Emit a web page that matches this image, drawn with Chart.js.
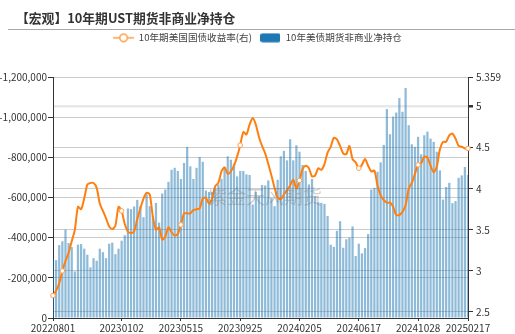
<!DOCTYPE html>
<html>
<head>
<meta charset="utf-8">
<script src="https://cdn.jsdelivr.net/npm/chart.js@4.4.1/dist/chart.umd.min.js"></script>
<style>
  html, body { margin: 0; padding: 0; background: #fff; }
  #wrap { width: 515px; height: 334px; }
</style>
</head>
<body>
<div id="wrap"><canvas id="myChart" width="515" height="334"></canvas></div>
<script>
// weekly data, Mondays from 2022-08-01
const startDate = Date.UTC(2022, 7, 1);

// 10年美债期货非商业净持仓 (contracts, net short)
const netPosition = [
  -296000, -288000, -363000, -382000, -440000, -373000, -353000, -232000, -365000, -368000,
  -345000, -315000, -252000, -298000, -285000, -345000, -328000, -298000, -370000, -375000,
  -318000, -345000, -385000, -412000, -545000, -542000, -555000, -588000, -557000, -502000,
  -615000, -557000, -507000, -573000, -475000, -620000, -640000, -678000, -738000, -748000,
  -732000, -692000, -772000, -852000, -755000, -692000, -748000, -802000, -778000, -635000,
  -628000, -628000, -648000, -665000, -693000, -752000, -805000, -788000, -768000, -705000,
  -732000, -732000, -715000, -712000, -565000, -628000, -607000, -662000, -660000, -685000,
  -598000, -557000, -688000, -805000, -832000, -785000, -890000, -785000, -860000, -828000,
  -762000, -732000, -665000, -692000, -605000, -577000, -573000, -568000, -508000, -365000,
  -354000, -434000, -482000, -350000, -392000, -400000, -456000, -309000, -370000, -322000,
  -348000, -418000, -640000, -648000, -728000, -775000, -862000, -1040000, -915000, -1003000,
  -1023000, -1095000, -1027000, -1145000, -960000, -865000, -852000, -902000, -815000, -910000,
  -928000, -893000, -877000, -828000, -735000, -590000, -652000, -673000, -572000, -582000,
  -698000, -710000, -752000, -712000
];

// 10年期美国国债收益率 (%)
const yield10y = [
  2.70, 2.76, 2.85, 3.00, 3.12, 3.22, 3.36, 3.50, 3.78, 3.75,
  3.88, 4.05, 4.07, 4.07, 4.01, 3.82, 3.73, 3.64, 3.54, 3.51,
  3.55, 3.78, 3.73, 3.57, 3.48, 3.46, 3.48, 3.63, 3.76, 3.88,
  3.95, 3.93, 3.66, 3.50, 3.53, 3.38, 3.42, 3.53, 3.47, 3.43,
  3.45, 3.56, 3.70, 3.70, 3.70, 3.74, 3.75, 3.76, 3.88, 3.89,
  3.82, 3.88, 4.03, 4.07, 4.21, 4.26, 4.18, 4.21, 4.28, 4.39,
  4.53, 4.69, 4.66, 4.78, 4.86, 4.78, 4.63, 4.52, 4.43, 4.30,
  4.16, 4.01, 3.89, 3.87, 3.93, 3.98, 4.04, 4.11, 4.00, 4.10,
  4.24, 4.28, 4.25, 4.15, 4.16, 4.25, 4.23, 4.30, 4.44, 4.51,
  4.62, 4.60, 4.52, 4.43, 4.42, 4.52, 4.36, 4.32, 4.25, 4.29,
  4.36, 4.28, 4.21, 4.22, 4.04, 3.92, 3.86, 3.83, 3.83, 3.78,
  3.68, 3.68, 3.72, 3.80, 4.00, 4.07, 4.18, 4.29, 4.31, 4.39,
  4.38, 4.28, 4.20, 4.27, 4.48, 4.57, 4.57, 4.65, 4.67, 4.61,
  4.52, 4.51, 4.49, 4.49
];

const tickLabels = ['20220801', '20230102', '20230515', '20230925', '20240205', '20240617', '20241028', '20250217'];
const markerDates = ['20220801', '20220822', '20230102', '20230515', '20230925', '20240205', '20240617', '20241028', '20250217'];
const leftTicks = [0, -200000, -400000, -600000, -800000, -1000000, -1200000];
const rightTicks = [2.5, 3, 3.5, 4, 4.5, 5, 5.359];

const dates = netPosition.map((_, i) => {
  const d = new Date(startDate + i * 7 * 86400000);
  return d.toISOString().slice(0, 10).replace(/-/g, '');
});

const FONT = '"Noto Sans CJK SC", "Noto Sans", sans-serif';
Chart.defaults.font.family = FONT;
Chart.defaults.color = '#333';

// legend symbols
function lineIcon() {
  const c = document.createElement('canvas');
  c.width = 21; c.height = 10;
  const g = c.getContext('2d');
  g.strokeStyle = '#ff9f4a'; g.lineWidth = 1.5;
  g.beginPath(); g.moveTo(0, 5); g.lineTo(21, 5); g.stroke();
  g.fillStyle = '#fff';
  g.beginPath(); g.arc(10.5, 5, 3.8, 0, Math.PI * 2); g.fill(); g.stroke();
  return c;
}
function barIcon() {
  const c = document.createElement('canvas');
  c.width = 20; c.height = 10;
  const g = c.getContext('2d');
  g.fillStyle = '#1f77b4';
  g.beginPath(); g.roundRect(0, 0.5, 20, 9, 2); g.fill();
  return c;
}

const header = {
  id: 'header',
  beforeInit(chart) {
    // leave room between the legend and the plot
    const fit = chart.legend.fit;
    chart.legend.fit = function () {
      fit.call(this);
      this.height = 52;
    };
  },
  beforeDraw(chart) {
    const ctx = chart.ctx;
    ctx.save();
    ctx.fillStyle = '#fff';
    ctx.fillRect(0, 0, chart.width, chart.height);
    ctx.fillStyle = '#333';
    ctx.font = 'bold 12.8px ' + FONT;
    ctx.textBaseline = 'middle';
    ctx.fillText('【宏观】10年期UST期货非商业净持仓', 16, 18);
    ctx.strokeStyle = '#a8a8a8';
    ctx.lineWidth = 1;
    ctx.beginPath(); ctx.moveTo(8, 29.5); ctx.lineTo(515, 29.5); ctx.stroke();
    ctx.restore();
  },
  afterDatasetsDraw(chart) {
    const ctx = chart.ctx;
    ctx.save();
    ctx.font = '19px ' + FONT;
    ctx.fillStyle = 'rgba(120,120,120,0.35)';
    ctx.textAlign = 'center';
    ctx.textBaseline = 'middle';
    ctx.fillText('紫金天风期货', 265, 197);
    ctx.restore();
  }
};

const isTick = i => tickLabels.includes(dates[i]);

new Chart(document.getElementById('myChart'), {
  type: 'bar',
  data: {
    labels: dates,
    datasets: [{
      type: 'line',
      label: '10年期美国国债收益率(右)',
      data: yield10y,
      yAxisID: 'y1',
      borderColor: '#ff7f0e',
      borderWidth: 2,
      tension: 0.25,
      pointRadius: ctx => markerDates.includes(dates[ctx.dataIndex]) ? 2.3 : 0,
      pointBackgroundColor: '#fff',
      pointBorderColor: '#ff9f4a',
      pointBorderWidth: 1
    }, {
      label: '10年美债期货非商业净持仓',
      data: netPosition,
      yAxisID: 'y',
      backgroundColor: 'rgba(31,119,180,0.5)',
      barPercentage: 0.72,
      categoryPercentage: 1.0
    }]
  },
  options: {
    responsive: false,
    animation: false,
    events: [],
    layout: { padding: { top: 25, left: 0, right: 0, bottom: 0 } },
    plugins: {
      tooltip: { enabled: false },
      legend: {
        position: 'top',
        labels: {
          usePointStyle: true,
          pointStyleWidth: 21,
          padding: 8,
          color: '#444',
          font: { size: 9.6 },
          generateLabels(chart) {
            const items = Chart.defaults.plugins.legend.labels.generateLabels(chart);
            items[0].pointStyle = lineIcon();
            items[1].pointStyle = barIcon();
            return items;
          }
        }
      }
    },
    scales: {
      x: {
        offset: false,
        afterFit(s) { s.height = 16; },
        grid: {
          offset: false,
          drawOnChartArea: false,
          tickLength: 3,
          tickColor: ctx => isTick(ctx.index) ? '#333' : 'rgba(0,0,0,0)'
        },
        border: { color: '#333' },
        ticks: {
          autoSkip: false,
          maxRotation: 0,
          minRotation: 0,
          padding: 1,
          font: { size: 10 },
          color: '#333',
          callback: (v, i) => isTick(i) ? dates[i] : ''
        }
      },
      y: {
        position: 'left',
        reverse: true,
        min: -1200000,
        max: 0,
        afterFit(s) { s.width = 53; },
        afterBuildTicks(s) { s.ticks = leftTicks.map(v => ({ value: v })); },
        grid: { color: '#ccc', tickLength: 5, tickColor: '#333' },
        border: { color: '#333' },
        ticks: {
          padding: 1,
          font: { size: 10 },
          color: '#333',
          callback: v => v.toLocaleString('en-US')
        }
      },
      y1: {
        position: 'right',
        min: 2.427,
        max: 5.359,
        afterFit(s) { s.width = 47; },
        afterBuildTicks(s) { s.ticks = rightTicks.map(v => ({ value: v })); },
        grid: {
          color: ctx => ctx.tick && ctx.tick.value === 5 ? '#e8e8e8' : '#ccc',
          lineWidth: ctx => ctx.tick && ctx.tick.value === 5 ? 2.5 : 1,
          tickLength: 5,
          tickColor: '#333'
        },
        border: { color: '#333' },
        ticks: {
          padding: 3,
          font: { size: 10 },
          color: '#333',
          callback: v => String(v)
        }
      }
    }
  },
  plugins: [header]
});
</script>
</body>
</html>
